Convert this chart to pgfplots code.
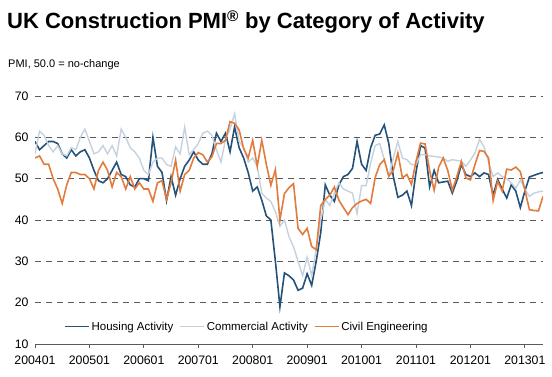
\documentclass[border=0pt]{standalone}
\usepackage{pgfplots}
\pgfplotsset{compat=1.18}
\usepackage{pgfplotstable}
\usepackage{fontspec}
\setmainfont{Liberation Sans}
\definecolor{housing}{RGB}{36,82,122}
\definecolor{commercial}{RGB}{196,210,224}
\definecolor{civil}{RGB}{226,124,62}
\definecolor{gridc}{RGB}{90,90,90}
\pgfplotstableread{
m H L C
0 59 56 55
1 57 61.5 55.5
2 58 60.5 53.5
3 59 58 53.5
4 59 56.5 50
5 58.5 58 47.5
6 56 56 44
7 55 55.5 48.5
8 57 57.5 51.5
9 55.5 57 51.5
10 56.5 60 51
11 57 62 51
12 55 59 50
13 52 56 47.5
14 49.5 56.5 52
15 49 58 54
16 50 56 52
17 52 58 48
18 54 55.5 51.5
19 51 62 50.5
20 50.5 60 47.5
21 48.5 57.5 50.5
22 48 56.5 47.5
23 50 55 49
24 50 52 47.5
25 49.5 51 47.5
26 60 54 44.5
27 53 55 49
28 51.5 55 49.5
29 44.7 53.4 45
30 50.5 53 49
31 46 57.7 54.5
32 50 56 47
33 53 62.5 51
34 54.5 55.8 52
35 56.5 57 55
36 54.5 58.5 56.3
37 53.5 61 55.8
38 53.5 61.5 54
39 56 60.5 55.3
40 61 57 58.5
41 59 54 58.5
42 61 59.5 59.3
43 56.5 62 63.8
44 62.5 65.7 63.4
45 57.5 59 61.8
46 55 57.5 57.3
47 51.5 54 55
48 47 55 59.3
49 48 53 53
50 44.8 46.5 59.3
51 41 45.3 53.5
52 40 44.5 48.4
53 30 42 52.2
54 19 38.5 40
55 27.2 40 46.4
56 26.5 36 47.8
57 25.5 33.5 48.8
58 23 30 38
59 23.5 26.5 36.5
60 27 31 38
61 24.2 26.5 33.6
62 30 33 32.8
63 37 40 43.5
64 48.5 45 45
65 46 43.5 46
66 44.5 46.5 48
67 48.5 49 44.8
68 50.5 47.5 43
69 51 47 41.3
70 52.5 46.5 43
71 59 41.5 44
72 53.5 48.3 44.6
73 52 48.3 45
74 57.5 53.8 44
75 60.5 58 50.3
76 60.8 58.5 53.4
77 63 54.6 54.6
78 58.5 50.5 50.6
79 50.5 55 52
80 45.5 59 56.2
81 46 55 50.2
82 47 54.6 51
83 43.5 53.4 48.6
84 51.5 53.4 54.2
85 58 55.8 58.6
86 57.4 55.8 58.4
87 48 55.5 52
88 52 55.4 47.2
89 49 55.2 52.8
90 49.2 55 55
91 49.4 54.2 52
92 46.5 54.6 47.2
93 49.5 54.4 50.5
94 53.4 54.2 54.2
95 51 53 50.2
96 50.5 54.5 49.7
97 51.4 56.2 53.4
98 50.5 59.5 56.8
99 51.4 57.7 56.6
100 51 54 55
101 46 50.5 44.7
102 49.8 51.4 49.3
103 47.5 50.5 47
104 45.3 50 52.3
105 48.5 49 52.1
106 47 47.7 52.8
107 43 49.7 51.7
108 47 47.5 47.3
109 50.4 45.7 42.5
110 50.8 46.5 42.3
111 51.2 46.8 42.2
112 51.5 47 45.7
}\pmidata
\begin{document}
\begin{tikzpicture}
\path[use as bounding box] (0,0) rectangle (552pt,-377pt);
\node[anchor=west, font=\fontsize{22}{26}\selectfont\bfseries, inner sep=0pt] at (7pt,-22pt) {UK Construction PMI\textsuperscript{®} by Category of Activity};
\node[anchor=west, font=\fontsize{11}{13}\selectfont, inner sep=0pt] at (8pt,-65pt) {PMI, 50.0 = no-change};
\begin{axis}[
  at={(35pt,-344pt)}, anchor=south west,
  scale only axis, width=508pt, height=248pt,
  xmin=0, xmax=112, ymin=10, ymax=70,
  axis lines*=left,
  y axis line style={draw=none},
  x axis line style={draw=gridc, line width=0.8pt},
  xtick={0,12,...,108},
  xticklabels={200401,200501,200601,200701,200801,200901,201001,201101,201201,201301},
  xtick align=outside,
  major tick length=4pt,
  x tick style={draw=gridc, line width=0.8pt},
  ytick={10,20,...,70},
  y tick style={draw=none},
  ymajorgrids,
  major grid style={gridc, dash pattern=on 6pt off 5pt, line width=0.6pt},
  /pgf/number format/assume math mode=true,
  tick label style={font=\fontsize{12.3}{14}\selectfont, black},
  xticklabel style={yshift=-4pt},
  yticklabel style={xshift=-3pt},
  legend columns=3,
  legend style={at={(0.417,0.07)}, anchor=center, draw=none, fill=white,
    font=\fontsize{11.5}{13}\selectfont, inner sep=1pt,
    /tikz/every even column/.append style={column sep=4pt}},
  legend image code/.code={\draw[#1] (0pt,0pt) -- (24pt,0pt);},
  legend cell align=left,
]
\addplot[housing, line width=1.6pt] table[x=m, y=H] {\pmidata};
\addlegendentry{Housing Activity}
\addplot[commercial, line width=1.4pt] table[x=m, y=L] {\pmidata};
\addlegendentry{Commercial Activity}
\addplot[civil, line width=1.6pt] table[x=m, y=C] {\pmidata};
\addlegendentry{Civil Engineering}
\end{axis}
\end{tikzpicture}
\end{document}
